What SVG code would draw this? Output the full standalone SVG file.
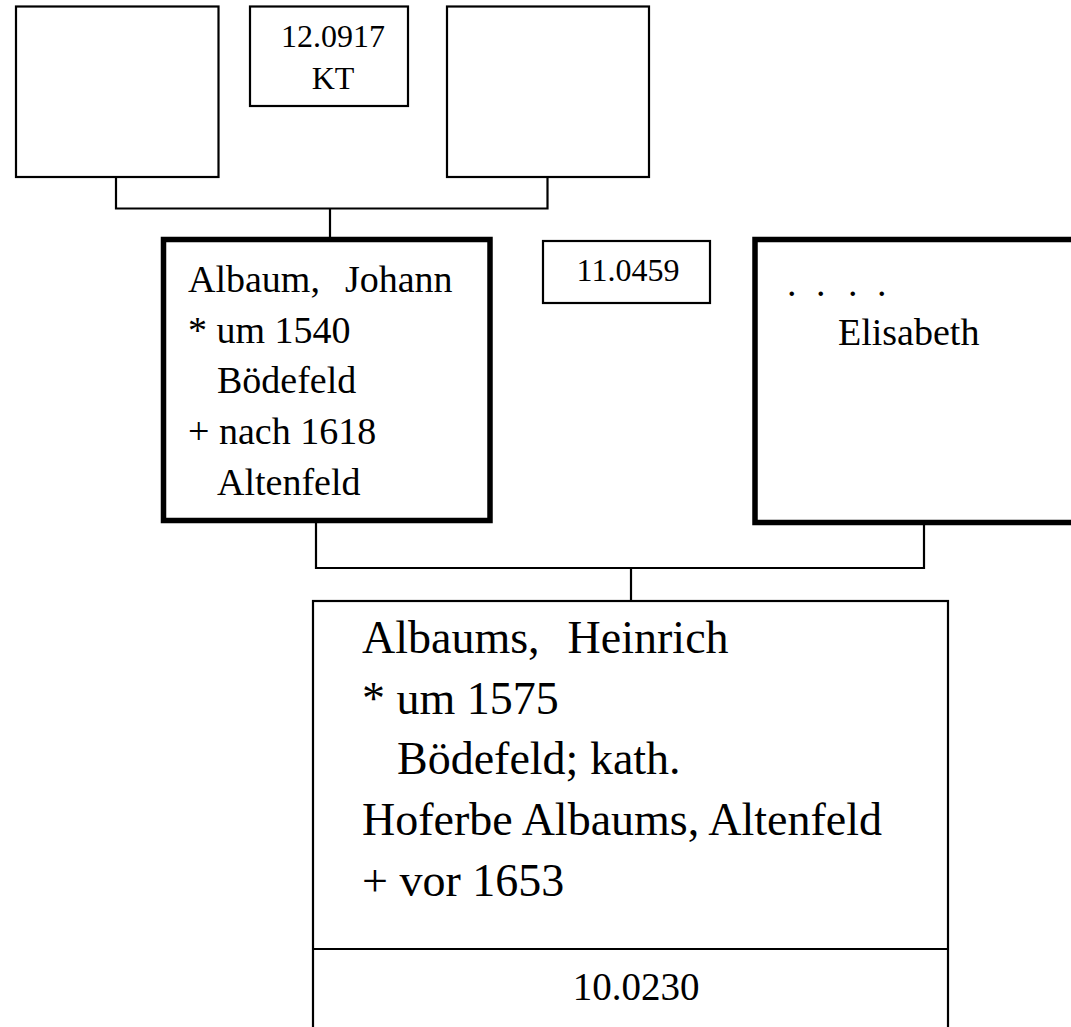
<svg xmlns="http://www.w3.org/2000/svg" width="1071" height="1027" viewBox="0 0 1071 1027">
  <style>
    .box { fill: #fff; stroke: #000; stroke-width: 2.2; }
    .bold { fill: #fff; stroke: #000; stroke-width: 5.5; }
    .wire { fill: none; stroke: #000; stroke-width: 2.2; }
    text { font-family: "Liberation Serif", "Times New Roman", serif; fill: #000; }
    .t32 { font-size: 32px; }
    .t38 { font-size: 38px; }
    .t39 { font-size: 39px; }
    .t46 { font-size: 46px; }
    .mid { text-anchor: middle; }
  </style>
  <rect width="1071" height="1027" fill="#fff"/>

  <!-- connectors -->
  <g id="connectors">
    <path class="wire" d="M116,177 V208.5 H547.5 V177"/>
    <path class="wire" d="M330,208.5 V238"/>
    <path class="wire" d="M316,522 V568 H924 V524"/>
    <path class="wire" d="M631,568 V601"/>
  </g>

  <!-- grandparents row -->
  <g id="node-grandfather">
    <rect class="box" x="16" y="6.5" width="202.5" height="170.5"/>
  </g>
  <g id="node-ref-12-0917">
    <rect class="box" x="250" y="6.5" width="158" height="99.5"/>
    <text class="t32 mid" x="333" y="47">12.0917</text>
    <text class="t32 mid" x="333" y="89">KT</text>
  </g>
  <g id="node-grandmother">
    <rect class="box" x="447" y="6.5" width="202" height="170.5"/>
  </g>

  <!-- parents row -->
  <g id="node-johann">
    <rect class="bold" x="163.5" y="239.5" width="326.5" height="281"/>
    <text class="t38" x="188" y="292" xml:space="preserve">Albaum,  <tspan dx="6">Johann</tspan></text>
    <text class="t38" x="188" y="343">* um 1540</text>
    <text class="t38" x="217" y="393">Bödefeld</text>
    <text class="t38" x="188" y="444">+ nach 1618</text>
    <text class="t38" x="217" y="495">Altenfeld</text>
  </g>
  <g id="node-ref-11-0459">
    <rect class="box" x="543" y="241" width="167" height="62"/>
    <text class="t32 mid" x="628" y="281">11.0459</text>
  </g>
  <g id="node-elisabeth">
    <rect class="bold" x="755" y="239.5" width="400" height="283"/>
    <text class="t38" x="787 801 816 832 848 862 877" y="296">. . . .</text>
    <text class="t38" x="838" y="345">Elisabeth</text>
  </g>

  <!-- child -->
  <g id="node-heinrich">
    <rect class="box" x="313" y="601" width="635" height="460"/>
    <line class="wire" x1="313" y1="949" x2="948" y2="949"/>
    <text class="t46" x="362" y="653" xml:space="preserve">Albaums,  <tspan dx="5">Heinrich</tspan></text>
    <text class="t46" x="362" y="714">* um 1575</text>
    <text class="t46" x="397" y="774">Bödefeld; kath.</text>
    <text class="t46" x="362" y="835">Hoferbe Albaums, Altenfeld</text>
    <text class="t46" x="362" y="896">+ vor 1653</text>
    <text class="t39 mid" x="636" y="1000">10.0230</text>
  </g>
</svg>
